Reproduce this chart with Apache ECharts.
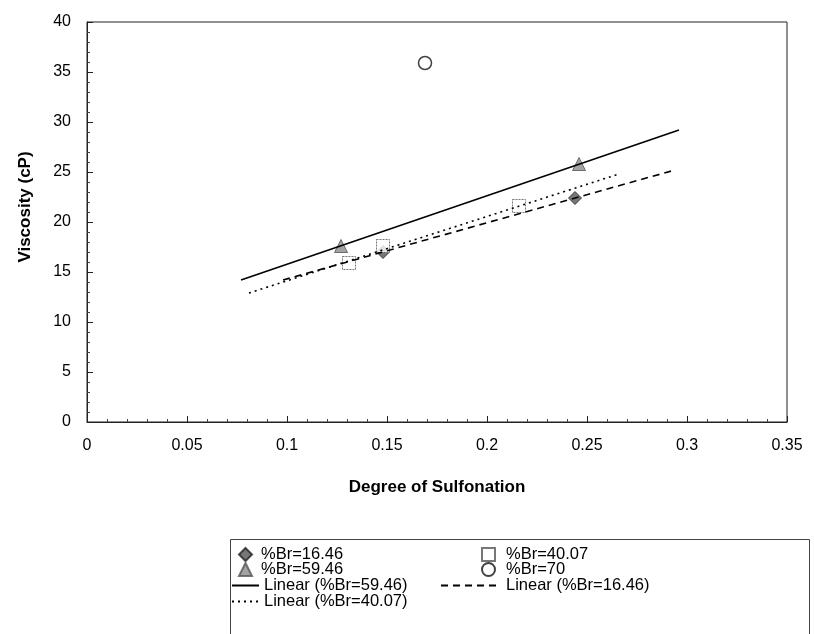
<!DOCTYPE html>
<html>
<head>
<meta charset="utf-8">
<script src="https://cdn.jsdelivr.net/npm/echarts@6/dist/echarts.min.js"></script>
<style>
  html, body { margin: 0; padding: 0; background: #fff; }
  #chart { width: 814px; height: 634px; }
</style>
</head>
<body>
<div id="chart"></div>
<script>
// measured points (degree of sulfonation, viscosity)
var br16X = [0.148, 0.244];
var br16Y = [17.0, 22.4];
var br40X = [0.131, 0.148, 0.216];
var br40Y = [15.9, 17.6, 21.6];
var br59X = [0.127, 0.246];
var br59Y = [17.6, 25.8];
var br70X = [0.169];
var br70Y = [35.9];

// trendline end points
var fit59X = [0.077, 0.296];
var fit59Y = [14.2, 29.2];
var fit16X = [0.098, 0.294];
var fit16Y = [14.2, 25.2];
var fit40X = [0.081, 0.266];
var fit40Y = [12.9, 24.8];

var font = "Liberation Sans, Arial, sans-serif";

function pairs(xs, ys) {
  return xs.map(function(x, i) { return [x, ys[i]]; });
}

// one legend per row so the rows sit where the original has them
function legendRow(name, left, top, width, isLine, gap) {
  var item = isLine ? { name: name, itemStyle: { opacity: 0 } } : name;
  return {
    left: left, top: top, orient: "vertical",
    itemWidth: width, itemHeight: 13,
    textStyle: {
      fontSize: 16.5, fontFamily: font, color: "#000", lineHeight: 16,
      padding: [0, 0, 0, gap || 0]
    },
    data: [item]
  };
}

var chart = echarts.init(document.getElementById("chart"));
chart.setOption({
  animation: false,
  backgroundColor: "#fff",
  textStyle: { fontFamily: font, color: "#000" },
  grid: {
    left: 87, right: 27, top: 22, bottom: 212,
    show: true, borderColor: "#222", borderWidth: 1
  },
  xAxis: {
    type: "value", min: 0, max: 0.35, interval: 0.05,
    name: "Degree of Sulfonation", nameLocation: "middle", nameGap: 57,
    nameTextStyle: { fontSize: 17, fontWeight: "bold", fontFamily: font, color: "#000" },
    axisLine: { lineStyle: { color: "#222" } },
    axisTick: { inside: true, length: 6, lineStyle: { color: "#222" } },
    minorTick: { show: true, splitNumber: 5, length: 3, lineStyle: { color: "#444" } },
    axisLabel: { fontSize: 16, color: "#000", margin: 16, fontFamily: font },
    splitLine: { show: false }
  },
  yAxis: {
    type: "value", min: 0, max: 40, interval: 5,
    name: "Viscosity (cP)", nameLocation: "middle", nameGap: 53, nameRotate: 90,
    nameTextStyle: {
      fontSize: 17, fontWeight: "bold", fontFamily: font, color: "#000",
      padding: [0, 0, 0, 30]
    },
    axisLine: { show: true, lineStyle: { color: "#222" } },
    axisTick: { show: true, inside: true, length: 6, lineStyle: { color: "#222" } },
    minorTick: { show: true, splitNumber: 5, length: 3, lineStyle: { color: "#444" } },
    axisLabel: { fontSize: 16, color: "#000", margin: 16, fontFamily: font },
    splitLine: { show: false }
  },
  legend: [
    legendRow("%Br=16.46", 233, 541, 13, false, 4),
    legendRow("%Br=59.46", 233, 556, 13, false, 4),
    legendRow("Linear (%Br=59.46)", 226, 572, 27, true),
    legendRow("Linear (%Br=40.07)", 226, 588, 27, true),
    legendRow("%Br=40.07", 476, 541, 13, false, 6),
    legendRow("%Br=70", 476, 556, 13, false, 6),
    legendRow("Linear (%Br=16.46)", 435, 572, 60, true)
  ],
  graphic: [{
    type: "rect", left: 228, top: 537, silent: true,
    shape: { width: 579, height: 110 },
    style: { fill: "none", stroke: "#444", lineWidth: 1 }
  }],
  series: [
    {
      name: "%Br=16.46", type: "scatter", symbol: "diamond", symbolSize: 13,
      itemStyle: { color: "#555", borderColor: "#222", borderWidth: 1 },
      data: pairs(br16X, br16Y)
    },
    {
      name: "%Br=40.07", type: "scatter", symbol: "rect", symbolSize: 13,
      itemStyle: { color: "#fff", borderColor: "#555", borderWidth: 1, borderType: [2, 1] },
      data: pairs(br40X, br40Y)
    },
    {
      name: "%Br=59.46", type: "scatter", symbol: "triangle", symbolSize: 13,
      itemStyle: { color: "#8c8c8c", borderColor: "#555", borderWidth: 1 },
      data: pairs(br59X, br59Y)
    },
    {
      name: "%Br=70", type: "scatter", symbol: "circle", symbolSize: 13,
      itemStyle: { color: "#fff", borderColor: "#111", borderWidth: 1.5 },
      data: pairs(br70X, br70Y)
    },
    {
      name: "Linear (%Br=59.46)", type: "line", symbol: "none", z: 5,
      lineStyle: { color: "#000", width: 1.6, type: "solid" },
      itemStyle: { color: "#000" },
      data: pairs(fit59X, fit59Y)
    },
    {
      name: "Linear (%Br=16.46)", type: "line", symbol: "none", z: 5,
      lineStyle: { color: "#000", width: 1.6, type: [7, 5] },
      itemStyle: { color: "#000" },
      data: pairs(fit16X, fit16Y)
    },
    {
      name: "Linear (%Br=40.07)", type: "line", symbol: "none", z: 5,
      lineStyle: { color: "#000", width: 1.6, type: [2, 4] },
      itemStyle: { color: "#000" },
      data: pairs(fit40X, fit40Y)
    }
  ]
});
</script>
</body>
</html>
